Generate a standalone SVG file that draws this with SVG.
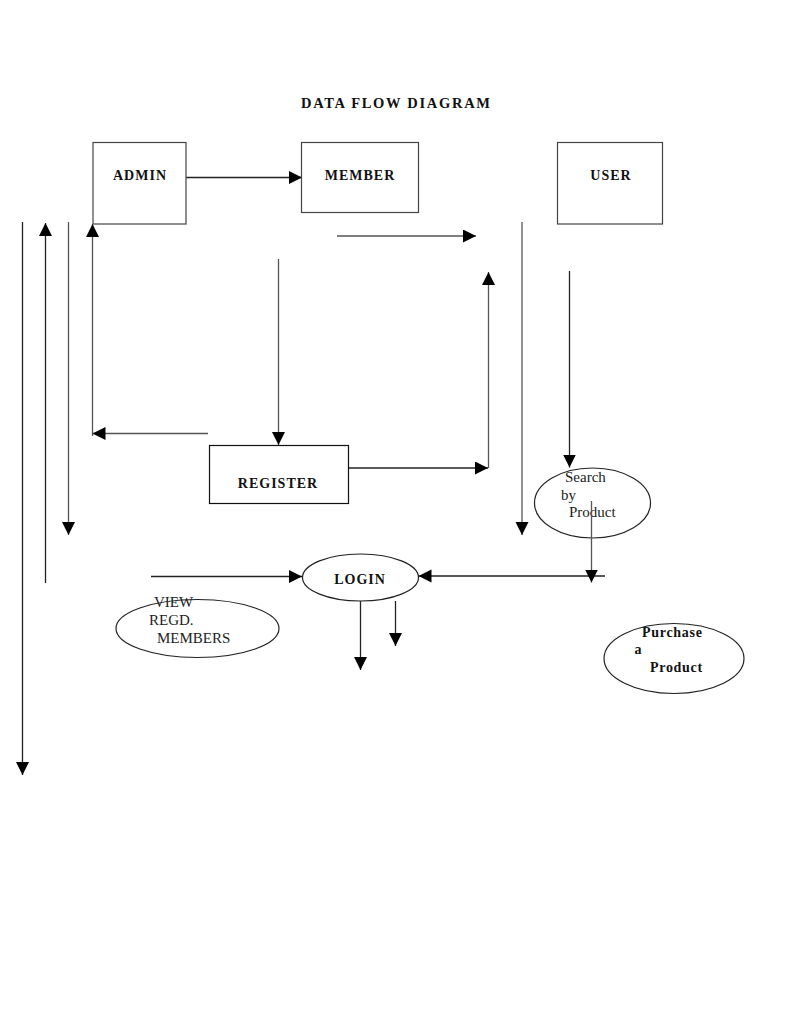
<svg xmlns="http://www.w3.org/2000/svg" width="791" height="1023" viewBox="0 0 791 1023">
<style>
.box{fill:#fff;stroke:#444;stroke-width:1.2}
.ell{fill:#fff;stroke:#222;stroke-width:1.2}
.ln{fill:none;stroke:#222;stroke-width:1.3}
.lg{fill:none;stroke:#555;stroke-width:1.3}
.arr{marker-end:url(#ah)}
.b{font-family:"Liberation Serif","Times New Roman",serif;font-weight:bold;font-size:14px;letter-spacing:1px;fill:#111}
.r{font-family:"Liberation Serif","Times New Roman",serif;font-size:15px;fill:#222}
.p{font-family:"Liberation Serif","Times New Roman",serif;font-weight:bold;font-size:14px;letter-spacing:0.7px;fill:#111}
</style>
<defs>
<marker id="ah" markerUnits="userSpaceOnUse" markerWidth="14" markerHeight="14" refX="13" refY="6.5" orient="auto">
<path d="M0,0 L13,6.5 L0,13 z" fill="#000"/>
</marker>
</defs>
<rect width="791" height="1023" fill="#fff"/>
<text x="301" y="107.5" class="b" style="font-size:14.5px;letter-spacing:0" textLength="189" lengthAdjust="spacing">DATA FLOW DIAGRAM</text>

<g id="connectors">
<line class="ln arr" x1="186" y1="177.5" x2="302" y2="177.5"/>
<line class="lg arr" x1="337" y1="236" x2="476" y2="236"/>
<line class="ln arr" x1="22.5" y1="222" x2="22.5" y2="775"/>
<line class="ln arr" x1="45.5" y1="583" x2="45.5" y2="223"/>
<line class="lg arr" x1="68.5" y1="222" x2="68.5" y2="535"/>
<line class="lg arr" x1="208" y1="433.5" x2="92.5" y2="433.5"/>
<line class="lg arr" x1="92.5" y1="436" x2="92.5" y2="224"/>
<line class="lg arr" x1="278.5" y1="259" x2="278.5" y2="445"/>
<line class="ln arr" x1="349" y1="468" x2="488" y2="468"/>
<line class="lg arr" x1="488.5" y1="468" x2="488.5" y2="272"/>
<line class="lg arr" x1="522" y1="222" x2="522" y2="535"/>
<line class="ln arr" x1="569.5" y1="271" x2="569.5" y2="467.5"/>
<line class="ln arr" x1="151" y1="576.5" x2="302" y2="576.5"/>
<line class="ln arr" x1="605" y1="576" x2="418.5" y2="576"/>
<line class="ln arr" x1="360.5" y1="601" x2="360.5" y2="670"/>
<line class="ln arr" x1="395.5" y1="601" x2="395.5" y2="646"/>
</g>

<g id="admin">
<rect class="box" x="93" y="142.5" width="93" height="81.5"/>
<text x="140" y="180" text-anchor="middle" class="b">ADMIN</text>
</g>
<g id="member">
<rect class="box" x="301.5" y="142.5" width="117" height="70"/>
<text x="360" y="180" text-anchor="middle" class="b">MEMBER</text>
</g>
<g id="user">
<rect class="box" x="557.5" y="142.5" width="105" height="81.5"/>
<text x="611" y="180" text-anchor="middle" class="b">USER</text>
</g>
<g id="register">
<rect class="box" x="209.5" y="445.5" width="139" height="58" style="stroke:#111"/>
<text x="278" y="488" text-anchor="middle" class="b">REGISTER</text>
</g>
<g id="search">
<ellipse class="ell" cx="592.5" cy="503" rx="58" ry="35"/>
<text class="r"><tspan x="565" y="482">Search</tspan><tspan x="561" y="500">by</tspan><tspan x="569" y="517">Product</tspan></text>
</g>
<line class="lg arr" x1="591.5" y1="501" x2="591.5" y2="582.5"/>
<g id="login">
<ellipse class="ell" cx="360.5" cy="577.5" rx="58" ry="23.5"/>
<text x="360" y="583.5" text-anchor="middle" class="b">LOGIN</text>
</g>
<g id="view-regd-members">
<ellipse class="ell" cx="197.5" cy="628.5" rx="81.5" ry="29"/>
<text class="r"><tspan x="154" y="607">VIEW</tspan><tspan x="149" y="624.5">REGD.</tspan><tspan x="157" y="643">MEMBERS</tspan></text>
</g>
<g id="purchase">
<ellipse class="ell" cx="674" cy="658.5" rx="70" ry="35"/>
<text class="p"><tspan x="642" y="637">Purchase</tspan><tspan x="634.5" y="654">a</tspan><tspan x="650" y="671.5">Product</tspan></text>
</g>
</svg>
